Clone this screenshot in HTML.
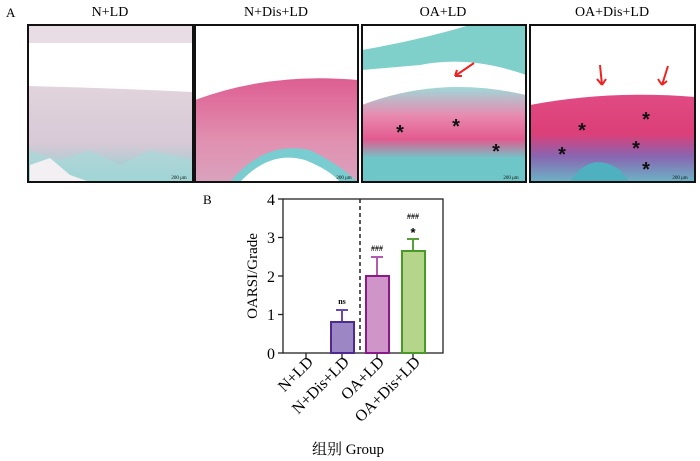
<!DOCTYPE html>
<html><head><style>body{margin:0;background:#fff}svg{display:block}</style></head><body>
<svg width="700" height="461" viewBox="0 0 700 461" xmlns="http://www.w3.org/2000/svg" font-family="Liberation Serif, serif">
<defs>
<linearGradient id="g1" x1="0" y1="0" x2="0" y2="1"><stop offset="0" stop-color="#e2d4dc"/><stop offset="0.6" stop-color="#d7c9d6"/><stop offset="1" stop-color="#8ccfd0"/></linearGradient>
<linearGradient id="g2" x1="0" y1="0" x2="0" y2="1"><stop offset="0" stop-color="#de5e92"/><stop offset="0.6" stop-color="#e190b0"/><stop offset="1" stop-color="#d9a2bd"/></linearGradient>
<linearGradient id="g3" x1="0" y1="0" x2="0" y2="1"><stop offset="0" stop-color="#9fd8d8"/><stop offset="0.3" stop-color="#e88ab0"/><stop offset="0.55" stop-color="#e25a8e"/><stop offset="0.75" stop-color="#6fc6c9"/><stop offset="1" stop-color="#6fc6c9"/></linearGradient>
<linearGradient id="g4" x1="0" y1="0" x2="0" y2="1"><stop offset="0" stop-color="#e04a82"/><stop offset="0.45" stop-color="#dc3f78"/><stop offset="0.7" stop-color="#8a64b0"/><stop offset="1" stop-color="#6bb4c6"/></linearGradient>
</defs>
<text x="6" y="17" font-size="13">A</text>
<g font-size="14" text-anchor="middle">
<text x="110" y="16">N+LD</text><text x="276" y="16">N+Dis+LD</text><text x="443" y="16">OA+LD</text><text x="612" y="16">OA+Dis+LD</text></g>
<rect x="28" y="25" width="165" height="157" fill="#fff"/>
<rect x="28" y="25" width="165" height="18" fill="#e8dde4"/>
<path d="M28 86 Q110 88 193 92 L193 182 L28 182Z" fill="url(#g1)"/>
<path d="M28 150 L60 160 L90 150 L120 165 L150 150 L193 160 L193 182 L28 182Z" fill="#a8d8d8" opacity="0.7"/>
<path d="M30 165 L50 158 L70 175 L90 182 L30 182Z" fill="#f2f0f2"/>
<rect x="195" y="25" width="163" height="157" fill="#fff"/>
<path d="M195 100 Q270 72 358 80 L358 182 L195 182Z" fill="url(#g2)"/>
<path d="M230 182 Q265 140 310 150 Q340 165 358 182Z" fill="#79cccf"/>
<path d="M240 182 Q270 150 305 160 Q330 170 340 182Z" fill="#fff"/>
<rect x="362" y="25" width="164" height="157" fill="#fff"/>
<path d="M362 50 Q420 40 470 25 L526 25 L526 75 Q470 55 420 65 L362 70Z" fill="#7fcfcb"/>
<path d="M362 105 Q440 75 526 95 L526 182 L362 182Z" fill="url(#g3)"/>
<rect x="530" y="25" width="165" height="157" fill="#fff"/>
<path d="M530 105 Q610 90 695 97 L695 182 L530 182Z" fill="url(#g4)"/>
<path d="M570 182 Q590 150 620 170 L630 182Z" fill="#4fb0c0"/>
<g fill="none" stroke="#111" stroke-width="2">
<rect x="28" y="25" width="165" height="157"/><rect x="195" y="25" width="163" height="157"/><rect x="362" y="25" width="164" height="157"/><rect x="530" y="25" width="165" height="157"/></g>
<g font-size="20" font-family="Liberation Sans, sans-serif" font-weight="bold" fill="#111" text-anchor="middle">
<text x="400" y="139">*</text><text x="456" y="133">*</text><text x="496" y="158">*</text>
<text x="582" y="137">*</text><text x="646" y="126">*</text><text x="562" y="161">*</text><text x="636" y="155">*</text><text x="646" y="176">*</text></g>
<g stroke="#e22" stroke-width="2" fill="none">
<path d="M474 63 L455 76 M455 76 L462 76 M455 76 L457 70"/>
<path d="M600 65 L602 85 M602 85 L597 79 M602 85 L606 79"/>
<path d="M668 66 L662 85 M662 85 L658 79 M662 85 L667 81"/></g>
<g font-size="5" text-anchor="middle" fill="#111"><text x="179" y="179">200 μm</text><text x="344" y="179">200 μm</text><text x="511" y="179">200 μm</text><text x="680" y="179">200 μm</text></g>
<text x="203" y="204" font-size="13">B</text>
<rect x="283" y="199" width="160" height="154" fill="none" stroke="#222" stroke-width="1.3"/>
<g stroke="#222" stroke-width="1.3"><line x1="278" y1="199" x2="283" y2="199"/><line x1="278" y1="237.5" x2="283" y2="237.5"/><line x1="278" y1="276" x2="283" y2="276"/><line x1="278" y1="314.5" x2="283" y2="314.5"/><line x1="278" y1="353" x2="283" y2="353"/>
<line x1="306" y1="353" x2="306" y2="358"/><line x1="342" y1="353" x2="342" y2="358"/><line x1="377" y1="353" x2="377" y2="358"/><line x1="413" y1="353" x2="413" y2="358"/></g>
<g font-size="16" text-anchor="end"><text x="275" y="205">4</text><text x="275" y="243">3</text><text x="275" y="282">2</text><text x="275" y="320">1</text><text x="275" y="359">0</text></g>
<line x1="360" y1="199" x2="360" y2="353" stroke="#222" stroke-width="1.5" stroke-dasharray="4,3"/>
<g stroke-width="2">
<line x1="342" y1="322" x2="342" y2="310" stroke="#6a4aa8"/><line x1="336" y1="310" x2="348" y2="310" stroke="#6a4aa8"/>
<rect x="331" y="322" width="23" height="31" fill="#9c86c4" stroke="#4c2a90"/>
<line x1="377" y1="276" x2="377" y2="257" stroke="#b45ab0"/><line x1="371" y1="257" x2="383" y2="257" stroke="#b45ab0"/>
<rect x="366" y="276" width="23" height="77" fill="#cf94c8" stroke="#8a1a88"/>
<line x1="413" y1="251" x2="413" y2="239" stroke="#5aa03a"/><line x1="407" y1="239" x2="419" y2="239" stroke="#5aa03a"/>
<rect x="402" y="251" width="23" height="102" fill="#b5d68a" stroke="#4a9a2a"/></g>
<g font-size="8" text-anchor="middle" font-weight="bold"><text x="342" y="304">ns</text><text x="377" y="251">###</text><text x="413" y="219">###</text><text x="413" y="237" font-size="13" font-family="Liberation Sans, sans-serif">*</text></g>
<text transform="translate(257,276) rotate(-90)" font-size="15" text-anchor="middle">OARSI/Grade</text>
<g font-size="16" text-anchor="end">
<text transform="translate(314,363) rotate(-45)">N+LD</text>
<text transform="translate(350,363) rotate(-45)">N+Dis+LD</text>
<text transform="translate(385,363) rotate(-45)">OA+LD</text>
<text transform="translate(421,363) rotate(-45)">OA+Dis+LD</text></g>
<text x="348" y="454" font-size="15" text-anchor="middle" font-family="Liberation Serif, Noto Serif CJK SC, serif">组别 Group</text>
</svg>
</body></html>
